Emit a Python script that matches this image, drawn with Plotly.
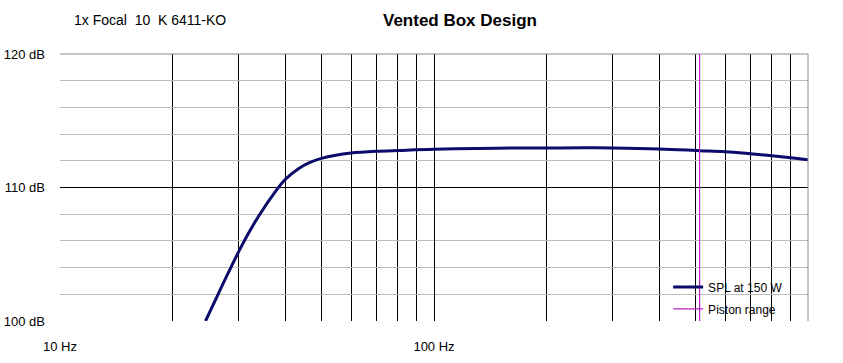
import plotly.graph_objects as go

# ---- data ----
freq_hz = [24.5, 26.5, 28.3, 30.7, 33.9, 37.9, 40, 43.6, 46.3, 50, 54.6,
           60, 70, 81, 100, 130, 160, 200, 250, 300, 400, 513, 600, 700, 800, 900, 1000]
spl_db = [100.0, 102.04, 103.72, 105.7, 107.81, 109.8, 110.6, 111.45, 111.85, 112.18, 112.42,
          112.58, 112.71, 112.78, 112.87, 112.92, 112.95, 112.96, 112.97, 112.96, 112.89,
          112.76, 112.68, 112.53, 112.38, 112.23, 112.08]
piston_freq = [513, 513]
piston_db = [100, 120]

x_major = [10, 100, 1000]
x_major_labels = ["10 Hz", "100 Hz", ""]
x_minor = [20, 30, 40, 50, 60, 70, 80, 90, 200, 300, 400, 500, 600, 700, 800, 900]
y_major = [100, 110, 120]
y_major_labels = ["100 dB", "110 dB", "120 dB"]

FONT = "Arial, Liberation Sans, sans-serif"

fig = go.Figure()
fig.add_trace(go.Scatter(x=freq_hz, y=spl_db, mode="lines", name="SPL at 150 W",
                         legendgroup="a",
                         line=dict(color="#0b0b6b", width=3, shape="spline", smoothing=1)))
fig.add_trace(go.Scatter(x=piston_freq, y=piston_db, mode="lines", name="Piston range",
                         legendgroup="b",
                         line=dict(color="#b820c8", width=1.2)))

fig.update_xaxes(type="log", range=[1, 3], tickvals=x_major, ticktext=x_major_labels,
                 showgrid=True, gridcolor="#000000", gridwidth=1,
                 minor=dict(tickvals=x_minor, showgrid=True, gridcolor="#000000", gridwidth=1, ticks=""),
                 ticks="", ticklabelstandoff=16, zeroline=False, showline=False, automargin=False,
                 tickfont=dict(family=FONT, size=13, color="#000000"))
fig.update_yaxes(range=[100, 120], tickvals=y_major, ticktext=y_major_labels,
                 showgrid=True, gridcolor="#000000", gridwidth=1,
                 minor=dict(dtick=2, showgrid=True, gridcolor="#bdbdbd", gridwidth=1, ticks=""),
                 ticks="", ticklabelstandoff=14, zeroline=False, showline=False, automargin=False,
                 tickfont=dict(family=FONT, size=13, color="#000000"))

# gray frame on top and right (plot area border)
fig.add_shape(type="line", xref="paper", yref="paper", x0=0, x1=1, y0=1, y1=1,
              line=dict(color="#8c8c8c", width=1), layer="above")
fig.add_shape(type="line", xref="paper", yref="paper", x0=1, x1=1, y0=0, y1=1,
              line=dict(color="#8c8c8c", width=1), layer="above")

fig.add_annotation(text="<b>Vented Box Design</b>", xref="paper", yref="paper",
                   x=0.535, y=1, yshift=34, showarrow=False, xanchor="center", yanchor="middle",
                   font=dict(family=FONT, size=17, color="#000000"))
fig.add_annotation(text="1x Focal\u00a0 10\u00a0 K 6411-KO", xref="paper", yref="paper",
                   x=0.016, y=1, yshift=34, showarrow=False, xanchor="left", yanchor="middle",
                   font=dict(family=FONT, size=14, color="#000000"))

fig.update_layout(
    width=843, height=363,
    margin=dict(l=60, r=35, t=54, b=42),
    paper_bgcolor="white", plot_bgcolor="white",
    showlegend=True,
    legend=dict(x=0.813, y=0.182, xanchor="left", yanchor="top", bgcolor="rgba(0,0,0,0)",
                font=dict(family=FONT, size=12, color="#000000"), itemwidth=30,
                tracegroupgap=3),
)

fig.write_html("out.html")
